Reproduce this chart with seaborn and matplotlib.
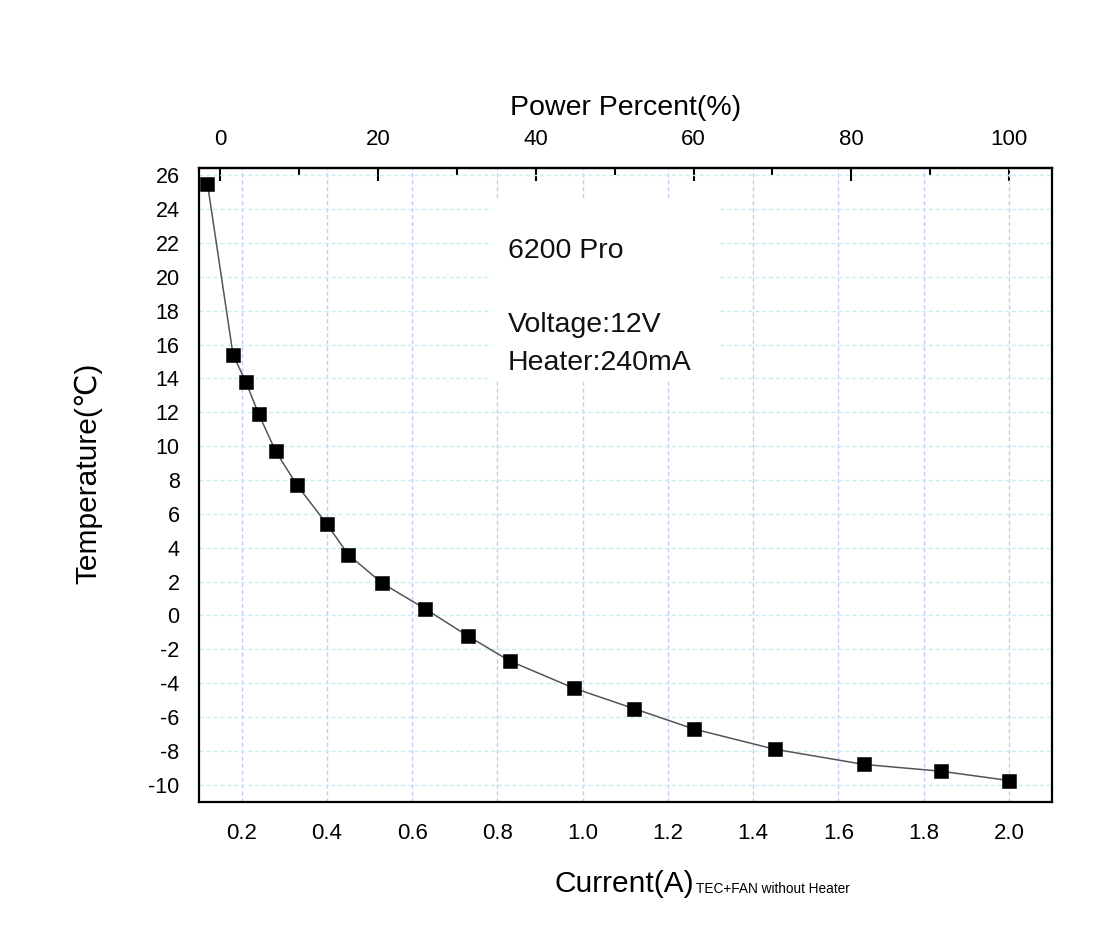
import numpy as np
import matplotlib
matplotlib.use('Agg')
import matplotlib.pyplot as plt
import seaborn as sns
from matplotlib.patches import Rectangle
from matplotlib.ticker import MultipleLocator

# measured points (current in A, temperature in degC)
current = [0.12, 0.18, 0.21, 0.24, 0.28, 0.33, 0.40, 0.45, 0.53, 0.63,
           0.73, 0.83, 0.98, 1.12, 1.26, 1.45, 1.66, 1.84, 2.00]
temperature = [25.5, 15.4, 13.8, 11.9, 9.7, 7.7, 5.4, 3.6, 1.9, 0.4,
               -1.2, -2.7, -4.3, -5.5, -6.7, -7.9, -8.8, -9.2, -9.75]

# current at 0 % and 100 % power (top axis)
pct_zero = 0.15
pct_full = 2.0
pct_ticks = [0, 20, 40, 60, 80, 100]

info_lines = ['6200 Pro', 'Voltage:12V', 'Heater:240mA']


def to_pct(i):
    return (np.asarray(i) - pct_zero) / (pct_full - pct_zero) * 100


def from_pct(p):
    return np.asarray(p) / 100 * (pct_full - pct_zero) + pct_zero


sns.set_style('white')
plt.rcParams['font.family'] = ['Liberation Sans', 'DejaVu Sans']
plt.rcParams['text.color'] = 'black'
plt.rcParams['axes.labelcolor'] = 'black'

fig = plt.figure(figsize=(11.01, 9.52), dpi=100)
ax = fig.add_axes([0.1807, 0.1579, 0.7745, 0.6659])

sns.lineplot(x=current, y=temperature, ax=ax, color='#555555', linewidth=1.1,
             marker='s', markersize=9.5, markerfacecolor='black',
             markeredgecolor='black', markeredgewidth=0.4, zorder=3)

ax.set_xlim(0.1, 2.1)
ax.set_ylim(-11, 26.45)
ax.xaxis.set_minor_locator(MultipleLocator(0.1))
ax.yaxis.set_minor_locator(MultipleLocator(1))
ax.set_xticks(np.arange(0.2, 2.01, 0.2))
ax.set_xticklabels(['%.1f' % v for v in np.arange(0.2, 2.01, 0.2)])
ax.set_yticks(np.arange(-10, 27, 2))
ax.set_yticklabels(['%d' % v for v in np.arange(-10, 27, 2)])

ax.tick_params(axis='x', which='major', direction='out', length=9, width=1.5,
               labelsize=16, pad=6, top=False, colors='black')
ax.tick_params(axis='x', which='minor', direction='out', length=5, width=1.5,
               top=False, colors='black')
ax.tick_params(axis='y', which='major', direction='out', length=9, width=1.5,
               labelsize=15.5, pad=5, right=False, colors='black')
ax.tick_params(axis='y', which='minor', direction='out', length=5, width=1.5,
               right=False, colors='black')

for s in ax.spines.values():
    s.set_visible(True)
    s.set_color('black')
    s.set_linewidth(1.6)

ax.grid(False)
ax.xaxis.grid(True, which='major', color='#c8c8f4', linestyle=(0, (3, 2)), linewidth=1.0)
ax.yaxis.grid(True, which='major', color='#c4f0f4', linestyle=(0, (3, 2)), linewidth=1.0)
ax.set_axisbelow(True)

# top axis: power percent
secax = ax.secondary_xaxis('top', functions=(to_pct, from_pct))
secax.set_xticks(pct_ticks)
secax.xaxis.set_minor_locator(MultipleLocator(10))
secax.tick_params(axis='x', which='major', direction='in', length=9, width=1.5,
                  labelsize=16, pad=13, colors='black')
secax.tick_params(axis='x', which='minor', direction='in', length=5, width=1.5,
                  colors='black')
secax.spines['top'].set_linewidth(1.6)
secax.set_xlabel('Power Percent(%)', fontsize=20.5, labelpad=10)

ax.set_ylabel('Temperature(℃)', fontsize=21.5)
ax.yaxis.set_label_coords(-0.113, 0.518)
ax.set_xlabel('')

# bottom label with small subscript part
main = fig.text(555 / 1101, 1 - 892 / 952, 'Current(A)', fontsize=21.5,
                ha='left', va='baseline')
ax.annotate('TEC+FAN without Heater', xy=(1, 0), xycoords=main,
            xytext=(1, 3.5), textcoords='offset points', fontsize=9.8,
            ha='left', va='baseline')

# white info box covering the grid
ax.add_patch(Rectangle((0.3436, 0.662), 0.265, 0.287, transform=ax.transAxes,
                       facecolor='white', edgecolor='none', zorder=1))
for txt, ybase in zip(info_lines, [258, 331.7, 370]):
    fig.text(508 / 1101, 1 - ybase / 952, txt, fontsize=20.5,
             ha='left', va='baseline', color='#111111')

fig.savefig('out.png', dpi=100)
